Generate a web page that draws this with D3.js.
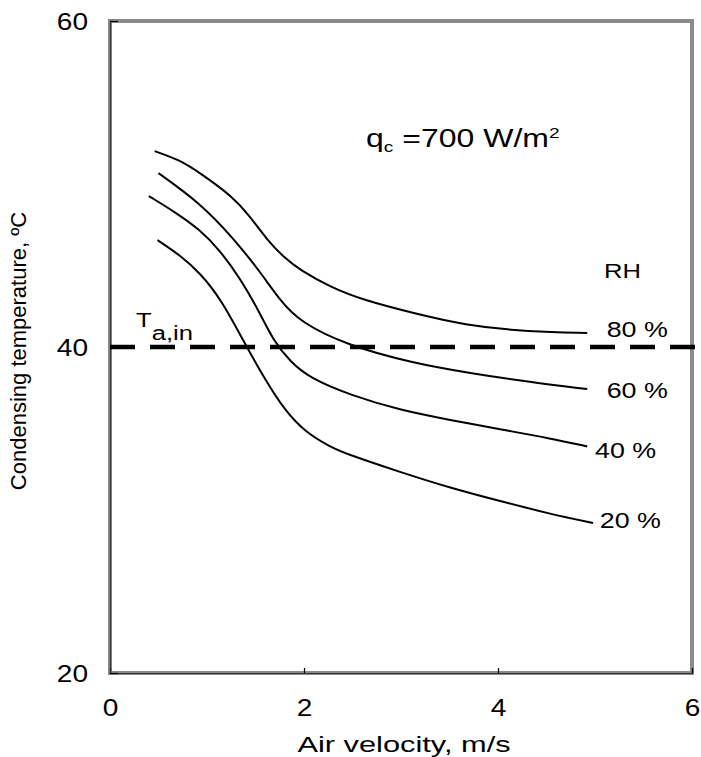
<!DOCTYPE html>
<html>
<head>
<meta charset="utf-8">
<script src="https://cdn.jsdelivr.net/npm/d3@7"></script>
<style>
  body { margin: 0; background: #fff; }
  text { font-family: "Liberation Sans", Arial, sans-serif; fill: #000; }
</style>
</head>
<body>
<script>
var w = 701;
var h = 757;

// Data: air velocity (m/s) vs condensing temperature (C)
var rhLabels = ["80 %", "60 %", "40 %", "20 %"];
var rh80 = [[0.46, 52.02], [0.72, 51.47], [0.93, 50.67], [1.27, 49.2], [1.44, 48.04], [1.62, 46.56], [1.8, 45.46], [1.96, 44.72], [2.27, 43.68], [2.61, 42.88], [3.12, 42.09], [3.64, 41.35], [4.33, 40.92], [4.92, 40.86]];
var rh60 = [[0.5, 50.67], [0.93, 48.83], [1.27, 46.69], [1.55, 44.6], [1.75, 42.88], [1.96, 41.53], [2.44, 40.12], [3.12, 39.02], [3.71, 38.4], [4.33, 37.85], [4.92, 37.42]];
var rh40 = [[0.4, 49.26], [0.67, 48.28], [0.93, 47.18], [1.13, 45.95], [1.34, 44.23], [1.53, 42.27], [1.68, 40.43], [1.86, 39.08], [2.06, 38.1], [2.47, 37.06], [2.99, 36.13], [3.51, 35.52], [4.02, 34.95], [4.54, 34.4], [4.92, 33.9]];
var rh20 = [[0.49, 46.56], [0.72, 45.64], [0.93, 44.54], [1.15, 42.88], [1.37, 40.43], [1.6, 37.98], [1.8, 36.13], [2.01, 34.79], [2.27, 33.87], [2.47, 33.37], [2.99, 32.33], [3.51, 31.35], [4.02, 30.55], [4.54, 29.75], [4.98, 29.2]];
var series = [rh80, rh60, rh40, rh20];
var airTemp = 40;
var xTicks = [0, 2, 4, 6];
var yTicks = [20, 40, 60];

// label spots for each RH curve (data units)
var labelPos = [[5.12, 40.6], [5.12, 36.9], [5.0, 33.2], [5.05, 28.9]];

var sx = 1.22; // text in the picture is a little wide

var xScale = d3.scaleLinear().domain([0, 6]).range([110, 692]);
var yScale = d3.scaleLinear().domain([20, 60]).range([673, 21]);

var svg = d3.select("body")
    .append("svg")
    .attr("width", w)
    .attr("height", h);

// grey frame
svg.append("rect")
    .attr("x", xScale(0))
    .attr("y", yScale(60))
    .attr("width", xScale(6) - xScale(0))
    .attr("height", yScale(20) - yScale(60))
    .attr("fill", "none")
    .attr("stroke", "#8a8a8a")
    .attr("stroke-width", 4);

// axes, ticks pointing inside
var xAxis = d3.axisBottom(xScale).tickValues(xTicks).tickFormat(d3.format("d")).tickSize(-5);
var yAxis = d3.axisLeft(yScale).tickValues(yTicks).tickFormat(d3.format("d")).tickSize(-8);

var gx = svg.append("g")
    .attr("transform", "translate(0," + yScale(20) + ")")
    .call(xAxis);
var gy = svg.append("g")
    .attr("transform", "translate(" + xScale(0) + ",0)")
    .call(yAxis);

[gx, gy].forEach(function(g) {
    g.select(".domain").attr("stroke", "#333").attr("stroke-width", 1.2);
    g.selectAll(".tick line").attr("stroke", "#000").attr("stroke-width", 1.2);
    g.selectAll(".tick text")
        .attr("font-size", 23)
        .attr("font-family", "Liberation Sans, Arial, sans-serif")
        .attr("fill", "#000");
});
gx.selectAll(".tick text")
    .attr("y", null).attr("dy", null)
    .attr("transform", "translate(0,43) scale(" + sx + ",1)");
gy.selectAll(".tick text")
    .attr("x", null).attr("dy", null)
    .attr("transform", "translate(-22,8) scale(" + sx + ",1)");

// inlet air temperature
svg.append("line")
    .attr("x1", xScale(0))
    .attr("x2", xScale(6) + 3)
    .attr("y1", yScale(airTemp))
    .attr("y2", yScale(airTemp))
    .attr("stroke", "#000")
    .attr("stroke-width", 4.5)
    .attr("stroke-dasharray", "25,15");

var line = d3.line()
    .x(function(d) { return xScale(d[0]); })
    .y(function(d) { return yScale(d[1]); })
    .curve(d3.curveBasis);

svg.selectAll(".rh")
    .data(series)
    .enter()
    .append("path")
    .attr("class", "rh")
    .attr("d", line)
    .attr("fill", "none")
    .attr("stroke", "#000")
    .attr("stroke-width", 2);

function label(x, y, size, k) {
    return svg.append("text")
        .attr("transform", "translate(" + x + "," + y + ") scale(" + (k || sx) + ",1)")
        .attr("font-size", size);
}

svg.selectAll(".rhlab")
    .data(rhLabels)
    .enter()
    .append("text")
    .attr("class", "rhlab")
    .attr("transform", function(d, i) {
        return "translate(" + xScale(labelPos[i][0]) + "," + yScale(labelPos[i][1]) + ") scale(" + sx + ",1)";
    })
    .attr("font-size", 22)
    .text(function(d) { return d; });

label(604, 278, 21).text("RH");

var q = label(366, 147, 25, 1.28);
q.append("tspan").text("q");
q.append("tspan").attr("font-size", 15).attr("dy", 5).text("c");
q.append("tspan").attr("dy", -5).text(" =700 W/m");
q.append("tspan").attr("font-size", 15).attr("dy", -9).text("2");

var t = label(136, 327, 21);
t.append("tspan").text("T");
t.append("tspan").attr("font-size", 21).attr("dy", 13).text("a,in");

label(404, 752, 22, 1.4)
    .attr("text-anchor", "middle")
    .text("Air velocity, m/s");

svg.append("text")
    .attr("transform", "translate(26,351) rotate(-90)")
    .attr("text-anchor", "middle")
    .attr("font-size", 22)
    .text("Condensing temperature, \u00baC");
</script>
</body>
</html>
